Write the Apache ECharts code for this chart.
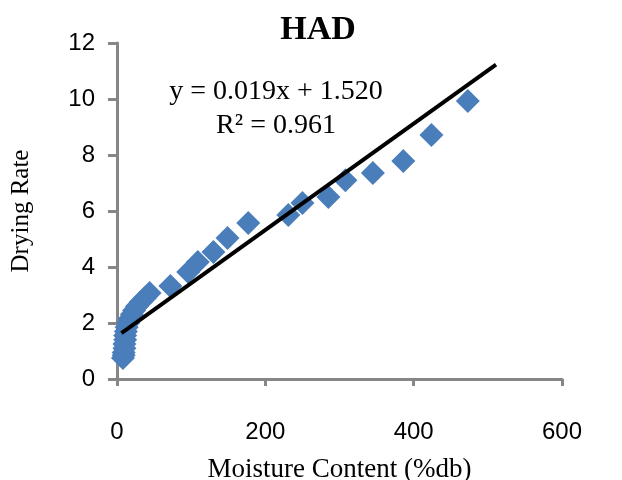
<!DOCTYPE html>
<html><head><meta charset="utf-8">
<script src="https://cdn.jsdelivr.net/npm/echarts@6/dist/echarts.min.js"></script>
<style>html,body{margin:0;padding:0;background:#fff}#c{width:622px;height:480px}</style>
</head><body><div id="c"></div>
<script>
const moisture = [473, 424, 386, 345, 308, 285, 250, 231, 177, 149, 130, 109, 96, 72, 44, 38, 32, 27, 23, 20, 17, 15, 13, 12, 11, 11, 10, 10, 9, 9, 8];
const dryingRate = [9.93, 8.71, 7.79, 7.36, 7.1, 6.5, 6.29, 5.86, 5.57, 5.04, 4.54, 4.18, 3.82, 3.32, 3.07, 2.9, 2.75, 2.6, 2.45, 2.3, 2.15, 2.0, 1.85, 1.7, 1.55, 1.4, 1.25, 1.1, 0.95, 0.85, 0.75];
const slope = 0.019, intercept = 1.520;
const trendX = [6, 511];
const xTicks = [0, 200, 400, 600];
const yTicks = [0, 2, 4, 6, 8, 10, 12];

const points = moisture.map((x, i) => [x, dryingRate[i]]);
const trend = trendX.map(x => [x, slope * x + intercept]);
const axisGray = '#868686';
const chart = echarts.init(document.getElementById('c'));
chart.setOption({
  animation: false,
  grid: { left: 117, right: 60, top: 43, bottom: 101, containLabel: false, outerBoundsMode: 'none' },
  xAxis: {
    type: 'value', min: xTicks[0], max: xTicks[xTicks.length - 1], interval: 200,
    name: 'Moisture Content (%db)', nameLocation: 'middle', nameGap: 77,
    nameTextStyle: { fontFamily: 'Liberation Serif', fontSize: 27, color: '#000' },
    axisLine: { show: true, lineStyle: { color: axisGray, width: 3 } },
    axisTick: { show: true, length: 7, lineStyle: { color: axisGray, width: 3 } },
    axisLabel: { margin: 41, fontFamily: 'Liberation Sans', fontSize: 24, color: '#000' },
    splitLine: { show: false }
  },
  yAxis: {
    type: 'value', min: yTicks[0], max: yTicks[yTicks.length - 1], interval: 2,
    name: 'Drying Rate', nameLocation: 'middle', nameGap: 83,
    nameTextStyle: { fontFamily: 'Liberation Serif', fontSize: 25, color: '#000' },
    axisLine: { show: true, lineStyle: { color: axisGray, width: 3 } },
    axisTick: { show: true, length: 9, lineStyle: { color: axisGray, width: 3 } },
    axisLabel: { margin: 22, fontFamily: 'Liberation Sans', fontSize: 24, color: '#000' },
    splitLine: { show: false }
  },
  graphic: [
    { type: 'text', x: 318, y: 30, style: { text: 'HAD', font: 'bold 34px "Liberation Serif"', fill: '#000', textAlign: 'center', textVerticalAlign: 'middle' } },
    { type: 'text', x: 276, y: 92, style: { text: 'y = 0.019x + 1.520', font: '28px "Liberation Serif"', fill: '#000', textAlign: 'center', textVerticalAlign: 'middle' } },
    { type: 'text', x: 276, y: 126, style: { text: 'R² = 0.961', font: '28px "Liberation Serif"', fill: '#000', textAlign: 'center', textVerticalAlign: 'middle' } }
  ],
  series: [
    {
      type: 'scatter', data: points, symbol: 'diamond', symbolSize: 24,
      itemStyle: { color: '#4a7ebb', opacity: 1 }, z: 2
    },
    {
      type: 'line', data: trend, symbol: 'none', z: 3,
      lineStyle: { color: '#000', width: 4 }
    }
  ]
});
</script></body></html>
